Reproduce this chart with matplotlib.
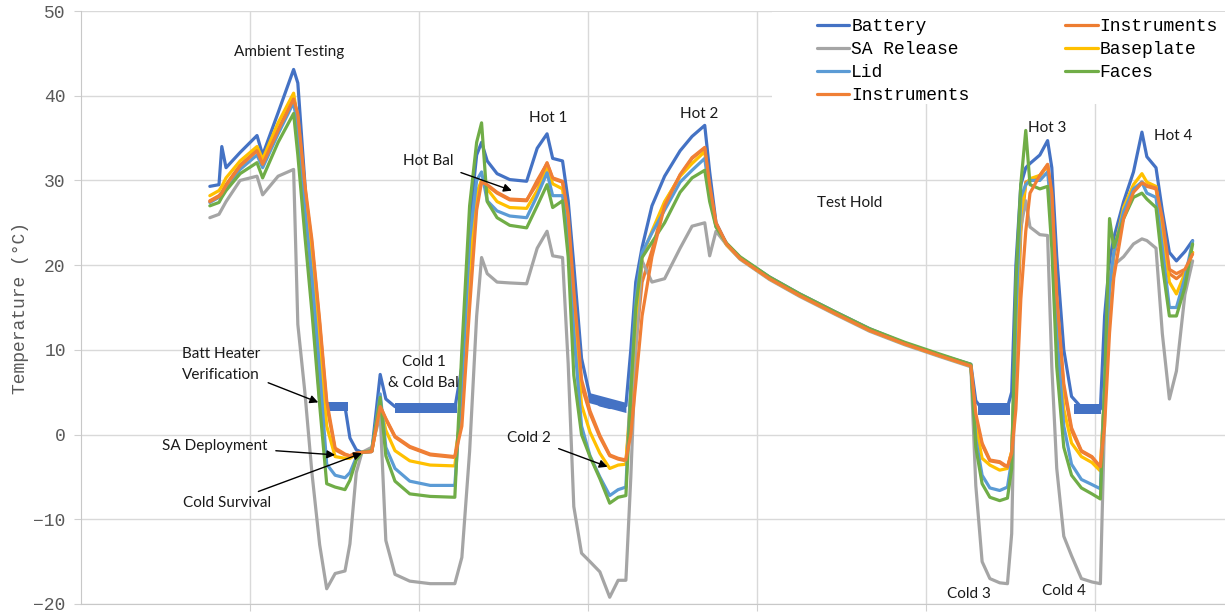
import matplotlib
matplotlib.use("Agg")
import matplotlib.pyplot as plt
from matplotlib.patches import Rectangle

# elapsed test time (hours) shared by every sensor trace
time_h = [18.3, 19.6, 20.0, 20.6, 22.6, 25.0, 25.8, 28.0, 30.2, 30.8,
          31.8, 32.8, 33.9, 34.9, 36.1, 37.5, 38.2, 39.1, 39.9, 41.3,
          42.5, 43.3, 44.6, 46.7, 49.6, 53.1, 54.1, 55.2, 56.2, 56.9,
          57.7, 59.1, 60.9, 63.3, 64.8, 66.2, 67.0, 68.4, 69.2, 70.0,
          71.1, 72.3, 73.7, 75.1, 76.3, 77.4, 78.1, 78.8, 79.7, 81.1,
          82.9, 85.1, 86.8, 88.6, 89.3, 90.2, 91.7, 93.6, 97.8, 102.1,
          107.1, 112.0, 117.0, 122.0, 126.4, 127.1, 128.0, 129.1, 130.5, 131.6,
          132.2, 132.8, 133.5, 134.2, 134.8, 136.2, 137.3, 137.9, 138.6, 139.6,
          140.7, 142.1, 143.6, 144.8, 145.4, 146.1, 146.7, 148.1, 149.5, 150.7,
          151.4, 152.7, 153.6, 154.6, 155.6, 156.8, 157.9]

battery = [29.3, 29.5, 34.0, 31.5, 33.3, 35.3, 33.0, 38.0, 43.1, 41.5,
           29.7, 17.7, 4.0, 3.4, 3.3, 3.3, -0.4, -1.8, -2.1, -2.0,
           7.1, 4.2, 3.3, 3.1, 3.1, 3.1, 8.0, 25.0, 33.0, 34.5,
           32.3, 30.8, 30.1, 29.9, 33.8, 35.5, 32.6, 32.3, 27.6, 20.0,
           9.0, 4.5, 3.5, 3.2, 3.2, 3.4, 10.0, 18.0, 22.1, 27.0,
           30.5, 33.5, 35.2, 36.5, 31.0, 25.0, 22.5, 20.9, 18.6, 16.6,
           14.5, 12.5, 10.8, 9.4, 8.3, 4.0, 3.0, 3.0, 2.9, 3.2,
           5.0, 20.0, 29.5, 31.5, 32.0, 33.0, 34.7, 31.5, 21.0, 10.0,
           4.5, 3.2, 3.0, 3.0, 14.0, 20.5, 23.2, 27.5, 31.0, 35.7,
           32.8, 31.5, 26.4, 21.5, 20.5, 21.6, 22.9]

instruments = [27.6, 28.2, 28.6, 29.5, 31.8, 33.6, 32.0, 36.0, 39.7, 37.5,
               29.0, 22.5, 13.0, 3.5, -1.8, -2.4, -2.5, -2.2, -2.1, -2.0,
               3.4, 1.8, -0.3, -1.5, -2.4, -2.7, 3.0, 18.0, 27.5, 30.0,
               29.4, 28.5, 27.7, 27.6, 30.0, 32.0, 30.2, 29.8, 25.0, 15.8,
               5.8, 2.5, -0.3, -2.5, -2.9, -3.1, 3.0, 10.5, 18.0, 21.7,
               27.3, 30.6, 32.6, 33.8, 29.0, 24.8, 22.4, 20.8, 18.4, 16.4,
               14.3, 12.3, 10.7, 9.3, 8.1, 2.0, -1.2, -3.1, -3.3, -3.9,
               -2.0, 8.0, 24.0, 29.8, 30.0, 30.5, 31.8, 28.0, 15.8, 5.5,
               0.5, -2.0, -2.7, -3.9, 5.0, 17.0, 21.0, 26.0, 28.8, 29.8,
               29.3, 29.0, 25.0, 19.0, 18.4, 19.2, 21.5]

sa_release = [25.6, 26.0, 26.6, 27.5, 30.0, 30.5, 28.3, 30.5, 31.3, 13.0,
              5.0, -4.5, -13.0, -18.2, -16.4, -16.1, -12.9, -4.5, -2.1, -1.5,
              2.3, -12.5, -16.5, -17.3, -17.6, -17.6, -14.5, -2.0, 14.0, 20.9,
              19.0, 18.0, 17.9, 17.8, 22.0, 24.0, 21.1, 20.9, 8.4, -8.5,
              -14.0, -15.0, -16.2, -19.2, -17.2, -17.2, -5.0, 10.0, 20.5, 18.0,
              18.4, 22.0, 24.6, 25.0, 21.1, 24.0, 22.4, 20.7, 18.3, 16.3,
              14.2, 12.2, 10.6, 9.2, 8.0, -6.0, -15.0, -17.0, -17.5, -17.6,
              -11.7, 14.0, 24.5, 27.6, 24.5, 23.6, 23.5, 8.0, -4.0, -12.0,
              -14.3, -17.0, -17.4, -17.6, 2.0, 19.0, 20.0, 21.0, 22.5, 23.1,
              22.9, 22.0, 11.9, 4.2, 7.5, 16.5, 20.5]

baseplate = [28.2, 28.8, 29.3, 30.3, 32.3, 34.0, 32.5, 36.8, 40.3, 37.0,
             27.5, 20.5, 10.5, 1.0, -2.6, -2.8, -2.8, -2.3, -2.1, -2.0,
             3.4, 0.5, -1.9, -3.1, -3.6, -3.7, 4.0, 20.0, 28.5, 30.0,
             29.0, 27.5, 26.8, 26.7, 28.8, 31.5, 29.6, 29.0, 24.0, 14.0,
             3.5, 0.3, -2.2, -4.0, -3.6, -3.5, 5.0, 14.0, 21.0, 24.0,
             27.5, 30.5, 32.0, 33.4, 28.5, 24.6, 22.4, 20.8, 18.4, 16.4,
             14.3, 12.3, 10.7, 9.3, 8.1, 1.0, -2.8, -3.6, -4.2, -4.0,
             -2.0, 12.0, 26.0, 29.5, 30.2, 30.6, 31.8, 27.0, 14.0, 3.0,
             -1.0, -2.6, -3.3, -4.3, 5.0, 17.0, 21.5, 26.8, 29.5, 30.8,
             29.8, 29.3, 24.0, 18.0, 16.6, 19.0, 21.5]

lid = [27.4, 28.0, 28.5, 29.2, 31.3, 33.0, 31.5, 35.5, 39.2, 36.0,
       26.5, 18.5, 7.5, -3.5, -4.8, -5.1, -4.5, -2.7, -2.1, -2.0,
       4.8, -1.5, -4.0, -5.5, -6.0, -6.0, 6.0, 23.0, 30.0, 31.0,
       27.6, 26.4, 25.8, 25.6, 28.2, 30.9, 28.2, 28.2, 23.0, 12.0,
       1.0, -2.5, -5.0, -7.2, -6.5, -6.2, 6.0, 16.0, 21.5, 23.8,
       26.5, 29.8, 31.2, 32.6, 28.3, 24.6, 22.5, 20.9, 18.5, 16.5,
       14.4, 12.4, 10.8, 9.4, 8.2, -0.5, -4.8, -6.3, -6.6, -6.2,
       -3.0, 14.0, 28.0, 29.5, 30.0, 30.0, 31.0, 26.0, 12.0, 1.0,
       -3.5, -5.3, -5.9, -6.4, 6.0, 17.5, 21.5, 26.3, 29.0, 29.8,
       28.5, 28.0, 22.0, 15.0, 15.0, 18.5, 22.8]

faces = [27.0, 27.4, 28.0, 28.8, 30.8, 32.1, 30.3, 34.5, 37.9, 33.0,
         23.5, 14.5, 3.5, -5.8, -6.2, -6.5, -5.4, -3.0, -2.1, -1.9,
         4.4, -2.5, -5.5, -7.0, -7.3, -7.4, 10.0, 27.0, 34.5, 36.8,
         27.5, 25.6, 24.7, 24.4, 27.0, 29.5, 26.8, 27.6, 21.0, 7.0,
         0.0, -2.6, -5.2, -8.1, -7.4, -7.2, 5.0, 15.0, 20.9, 22.7,
         25.0, 28.6, 30.3, 31.2, 27.5, 24.5, 22.6, 21.0, 18.6, 16.6,
         14.5, 12.5, 10.9, 9.5, 8.3, -1.5, -5.8, -7.4, -7.8, -7.5,
         -4.0, 18.2, 29.6, 35.9, 29.5, 29.0, 29.3, 22.0, 8.0, -1.5,
         -4.8, -6.3, -7.0, -7.6, 6.0, 25.5, 22.1, 25.5, 28.0, 28.5,
         27.8, 26.8, 20.0, 14.0, 14.0, 17.4, 22.5]

instruments_2 = [27.5, 28.1, 28.5, 29.4, 31.7, 33.5, 31.9, 35.9, 39.6, 37.8,
                 29.5, 23.0, 13.5, 4.0, -1.6, -2.3, -2.5, -2.2, -2.1, -2.0,
                 3.3, 1.9, -0.2, -1.4, -2.3, -2.6, 1.0, 15.0, 26.5, 29.8,
                 29.5, 28.6, 27.8, 27.7, 29.6, 32.1, 30.3, 29.9, 26.0, 17.0,
                 6.5, 2.8, -0.1, -2.4, -2.8, -3.0, 0.0, 6.0, 14.0, 21.0,
                 27.0, 30.7, 32.7, 33.9, 29.5, 25.0, 22.5, 20.8, 18.4, 16.4,
                 14.3, 12.3, 10.7, 9.3, 8.1, 2.5, -1.0, -3.0, -3.2, -3.8,
                 -2.2, 3.0, 16.0, 24.0, 28.5, 30.6, 31.9, 28.5, 16.5, 6.0,
                 0.8, -1.9, -2.6, -3.8, 1.0, 12.0, 18.5, 25.5, 28.6, 29.7,
                 29.4, 29.1, 25.5, 19.5, 19.0, 19.5, 21.3]

# battery heater cycling shows up as a noisy band during cold holds
batt_band_t = [(35.1, 37.9), (44.6, 53.4), (72.0, 77.4), (127.4, 131.9), (141.0, 144.9)]
batt_band_lo = [(2.8, 2.8), (2.5, 2.5), (3.8, 2.6), (2.3, 2.3), (2.4, 2.4)]
batt_band_hi = [(3.9, 3.9), (3.7, 3.7), (5.0, 3.8), (3.7, 3.7), (3.6, 3.6)]

series = [
    ("Battery", battery, "#4472C4"),
    ("Instruments", instruments, "#ED7D31"),
    ("SA Release", sa_release, "#A5A5A5"),
    ("Baseplate", baseplate, "#FFC000"),
    ("Lid", lid, "#5B9BD5"),
    ("Faces", faces, "#70AD47"),
    ("Instruments", instruments_2, "#F07F35"),
]

# (text, text position, arrow head or None)
notes = [
    ("Ambient Testing", (29.5, 45.2), None),
    ("Batt Heater\nVerification", (19.9, 8.3), (33.7, 3.8)),
    ("SA Deployment", (19.0, -1.4), (36.1, -2.4)),
    ("Cold Survival", (20.7, -8.1), (39.9, -2.2)),
    ("Cold 1\n& Cold Bal", (48.7, 7.3), None),
    ("Hot Bal", (49.3, 32.3), (61.2, 28.8)),
    ("Hot 1", (66.3, 37.4), None),
    ("Cold 2", (63.6, -0.35), (74.8, -3.8)),
    ("Hot 2", (87.8, 37.9), None),
    ("Test Hold", (109.2, 27.3), None),
    ("Cold 3", (126.1, -18.8), None),
    ("Hot 3", (137.3, 36.2), None),
    ("Cold 4", (139.6, -18.5), None),
    ("Hot 4", (155.1, 35.2), None),
]

plt.rcParams["font.family"] = ["Liberation Mono", "DejaVu Sans"]

fig = plt.figure(figsize=(12.25, 6.13), dpi=100)
ax = fig.add_axes([81 / 1225, 9 / 613, 1 - 81 / 1225, 593 / 613])

lines = {}
for i, (name, values, color) in enumerate(series):
    (ln,) = ax.plot(time_h, values, color=color, lw=2.3, label=name,
                    solid_joinstyle="round", solid_capstyle="round", zorder=3 + i)
    lines[i] = ln
    if i == 0:
        for (t0, t1), (l0, l1), (h0, h1) in zip(batt_band_t, batt_band_lo, batt_band_hi):
            ax.fill_between([t0, t1], [l0, l1], [h0, h1], color=color, lw=0, zorder=3)

ax.set_xlim(0, 162.5)
ax.set_ylim(-20, 50)
ax.set_xticks(range(24, 163, 24))
ax.set_xticklabels([])
ax.set_yticks(range(-20, 51, 10))
ax.grid(True, color="#D9D9D9", lw=1)
ax.set_axisbelow(True)
ax.tick_params(axis="both", length=5, color="#D0D0D0", labelsize=13,
               labelcolor="#595959", pad=6)
for side in ("top", "right"):
    ax.spines[side].set_visible(False)
for side in ("left", "bottom"):
    ax.spines[side].set_color("#C8C8C8")
ax.set_ylabel("Temperature (\u00b0C)", fontsize=13, color="#595959", labelpad=3)

# white box behind the legend, like the spreadsheet chart
ax.add_patch(Rectangle((0.604, 0.843), 0.4, 0.155, transform=ax.transAxes,
                       facecolor="white", edgecolor="none", zorder=1.8))
order = [0, 2, 4, 6, 1, 3, 5]
ax.legend([lines[i] for i in order], [series[i][0] for i in order],
          ncol=2, loc="upper right", bbox_to_anchor=(1.0, 1.0), frameon=False,
          prop={"family": "Liberation Mono", "size": 13}, handlelength=1.8,
          handletextpad=0.1, columnspacing=5.3, labelspacing=0.33,
          borderaxespad=0.1, borderpad=0.3)

for text, pos, head in notes:
    if head is None:
        ax.text(pos[0], pos[1], text, ha="center", va="center", fontsize=11,
                family="Lato", color="#1A1A1A", zorder=20,
                multialignment="center", linespacing=1.6)
    else:
        ax.annotate(text, xy=head, xytext=pos, ha="center", va="center",
                    fontsize=11, family="Lato", color="#1A1A1A", zorder=20,
                    multialignment="center", linespacing=1.6,
                    arrowprops=dict(arrowstyle="-|>", color="black", lw=1,
                                    mutation_scale=12, shrinkA=4, shrinkB=0))

fig.savefig("out.png", dpi=100)
